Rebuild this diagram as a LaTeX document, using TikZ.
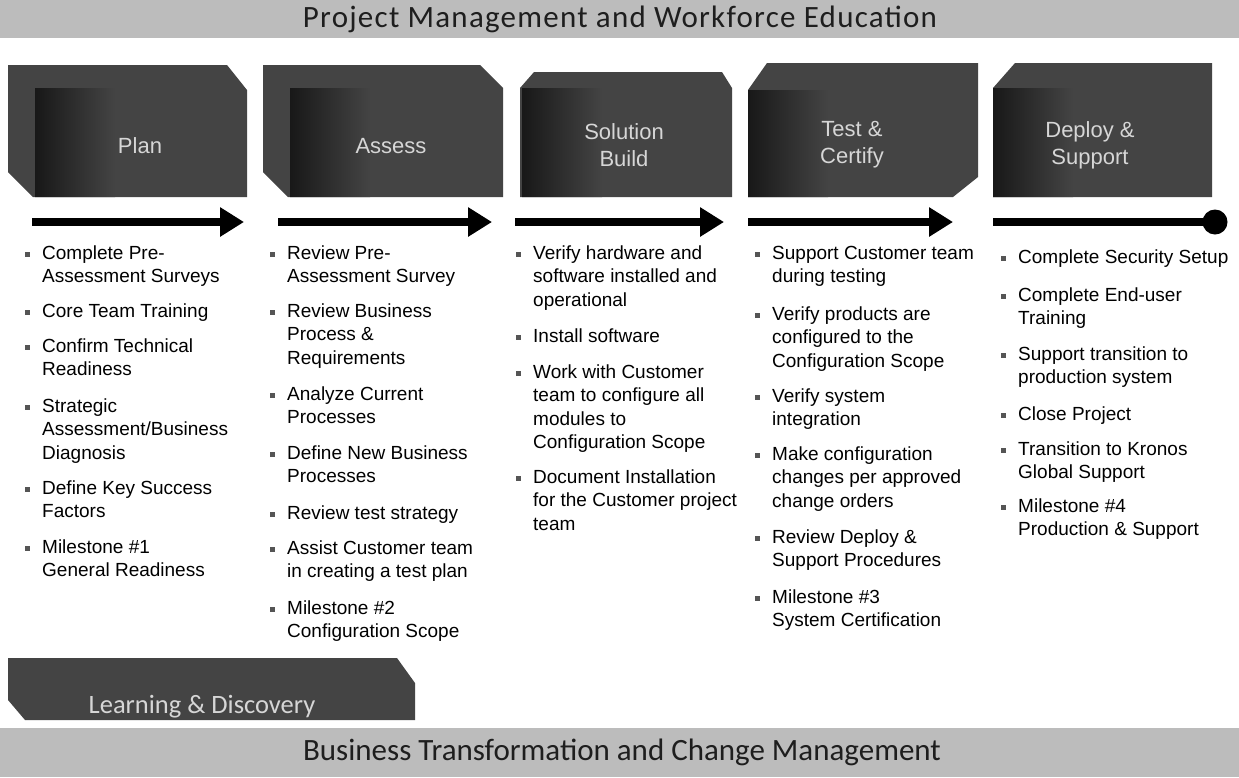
\documentclass[tikz,border=0pt]{standalone}
\usepackage{fontspec}
\setmainfont{Liberation Sans}
\newfontfamily\bannerfont{Carlito}
\newfontfamily\bannerwide{Carlito}[LetterSpace=4]
\usetikzlibrary{arrows.meta}
\definecolor{boxc}{HTML}{444444}
\definecolor{boxdark}{HTML}{181818}
\definecolor{banc}{HTML}{BCBCBC}
\definecolor{lblc}{HTML}{D6D6D6}
\definecolor{bulc}{HTML}{555555}
\definecolor{ttlc}{HTML}{1E1E1E}
\tikzset{
  itemtxt/.style={anchor=base west, inner sep=0pt, font=\fontsize{19}{23.5}\selectfont},
  boxlbl/.style={align=center, inner sep=0pt, text=lblc, font=\fontsize{22}{27}\selectfont},
  bannertxt/.style={inner sep=0pt, text=ttlc, font=\bannerfont\fontsize{31}{36}\selectfont},
  phasearrow/.style={line width=8pt, -{Triangle[length=24pt,width=28pt]}},
  phaseline/.style={line width=8pt},
}
\newcommand\itm[4]{%
  \fill[bulc] (#2-17,#3-7) rectangle (#2-12,#3-2);
  \node[itemtxt] (#1) at (#2,#3) {\begin{tabular}[t]{@{}l@{}}#4\end{tabular}};}
\newcommand\darkstrip[3]{%
  \shade[left color=boxdark, right color=boxc] (#1,#2) rectangle (#1+80,#3);}
\begin{document}
\begin{tikzpicture}[x=1pt,y=-1pt]
\useasboundingbox (0,0) rectangle (1239,777);
\fill[white] (0,0) rectangle (1239,777);
% banners
\fill[banc] (0,0) rectangle (1239,38);
\node[bannertxt, font=\bannerwide\fontsize{31}{36}\selectfont] (ttl) at (620,19) {Project Management and Workforce Education};
\fill[banc] (0,728) rectangle (1239,777);
\node[bannertxt] (btl) at (622,752) {Business Transformation and Change Management};
% phase boxes
\begin{scope}
  \clip (8,65) -- (227,65) -- (247,90) -- (247,197) -- (33,197) -- (8,172) -- cycle;
  \fill[boxc] (0,60) rectangle (260,200);
  \darkstrip{35}{88}{197}
\end{scope}
\begin{scope}
  \clip (263,65) -- (480,65) -- (503,88) -- (503,197) -- (288,197) -- (263,172) -- cycle;
  \fill[boxc] (255,60) rectangle (510,200);
  \darkstrip{290}{88}{197}
\end{scope}
\begin{scope}
  \clip (520,88) -- (534,72) -- (722,72) -- (732,88) -- (732,197) -- (520,197) -- cycle;
  \fill[boxc] (515,60) rectangle (740,200);
  \darkstrip{522}{88}{197}
\end{scope}
\begin{scope}
  \clip (748,90) -- (767,63) -- (978,63) -- (978,177) -- (953,197) -- (748,197) -- cycle;
  \fill[boxc] (740,60) rectangle (985,200);
  \darkstrip{748}{90}{197}
\end{scope}
\begin{scope}
  \clip (993,88) -- (1015,63) -- (1212,63) -- (1212,197) -- (993,197) -- cycle;
  \fill[boxc] (990,60) rectangle (1220,200);
  \darkstrip{993}{88}{197}
\end{scope}
\node[boxlbl] (lplan) at (140,146) {Plan};
\node[boxlbl] (lassess) at (391,146) {Assess};
\node[boxlbl] (lbuild) at (624,145) {Solution\\Build};
\node[boxlbl] (ltest) at (852,145) {Test \&\\Certify};
\node[boxlbl] (ldeploy) at (1090,145) {Deploy \&\\Support};
% arrows
\coordinate (a1s) at (32,222);  \coordinate (a1e) at (244,222);
\coordinate (a2s) at (278,222); \coordinate (a2e) at (492,222);
\coordinate (a3s) at (515,222); \coordinate (a3e) at (724,222);
\coordinate (a4s) at (748,222); \coordinate (a4e) at (953,222);
\coordinate (a5s) at (993,222); \coordinate (a5e) at (1215,222);
\draw[phasearrow] (a1s) -- (a1e);
\draw[phasearrow] (a2s) -- (a2e);
\draw[phasearrow] (a3s) -- (a3e);
\draw[phasearrow] (a4s) -- (a4e);
\draw[phaseline] (a5s) -- (a5e);
\fill (a5e) circle (12.5);
% column 1
\itm{c1a}{42}{259}{Complete Pre-\\Assessment Surveys}
\itm{c1b}{42}{317}{Core Team Training}
\itm{c1c}{42}{352}{Confirm Technical\\Readiness}
\itm{c1d}{42}{412}{Strategic\\Assessment/Business\\Diagnosis}
\itm{c1e}{42}{494}{Define Key Success\\Factors}
\itm{c1f}{42}{553}{Milestone \#1\\General Readiness}
% column 2
\itm{c2a}{287}{259}{Review Pre-\\Assessment Survey}
\itm{c2b}{287}{317}{Review Business\\Process \&\\Requirements}
\itm{c2c}{287}{400}{Analyze Current\\Processes}
\itm{c2d}{287}{459}{Define New Business\\Processes}
\itm{c2e}{287}{519}{Review test strategy}
\itm{c2f}{287}{554}{Assist Customer team\\in creating a test plan}
\itm{c2g}{287}{614}{Milestone \#2\\Configuration Scope}
% column 3
\itm{c3a}{533}{259}{Verify hardware and\\software installed and\\operational}
\itm{c3b}{533}{342}{Install software}
\itm{c3c}{533}{378}{Work with Customer\\team to configure all\\modules to\\Configuration Scope}
\itm{c3d}{533}{483}{Document Installation\\for the Customer project\\team}
% column 4
\itm{c4a}{772}{259}{Support Customer team\\during testing}
\itm{c4b}{772}{320}{Verify products are\\configured to the\\Configuration Scope}
\itm{c4c}{772}{402}{Verify system\\integration}
\itm{c4d}{772}{460}{Make configuration\\changes per approved\\change orders}
\itm{c4e}{772}{543}{Review Deploy \&\\Support Procedures}
\itm{c4f}{772}{603}{Milestone \#3\\System Certification}
% column 5
\itm{c5a}{1018}{263}{Complete Security Setup}
\itm{c5b}{1018}{301}{Complete End-user\\Training}
\itm{c5c}{1018}{360}{Support transition to\\production system}
\itm{c5d}{1018}{420}{Close Project}
\itm{c5e}{1018}{455}{Transition to Kronos\\Global Support}
\itm{c5f}{1018}{512}{Milestone \#4\\Production \& Support}
% learning & discovery
\begin{scope}
  \clip (8,658) -- (397,658) -- (415,683) -- (415,720) -- (25,720) -- (8,700) -- cycle;
  \fill[boxc] (0,650) rectangle (420,725);
\end{scope}
\node[inner sep=0pt, text=lblc, font=\bannerfont\fontsize{26.5}{30}\selectfont] (ld) at (202,707) {Learning \& Discovery};
\end{tikzpicture}
\end{document}
